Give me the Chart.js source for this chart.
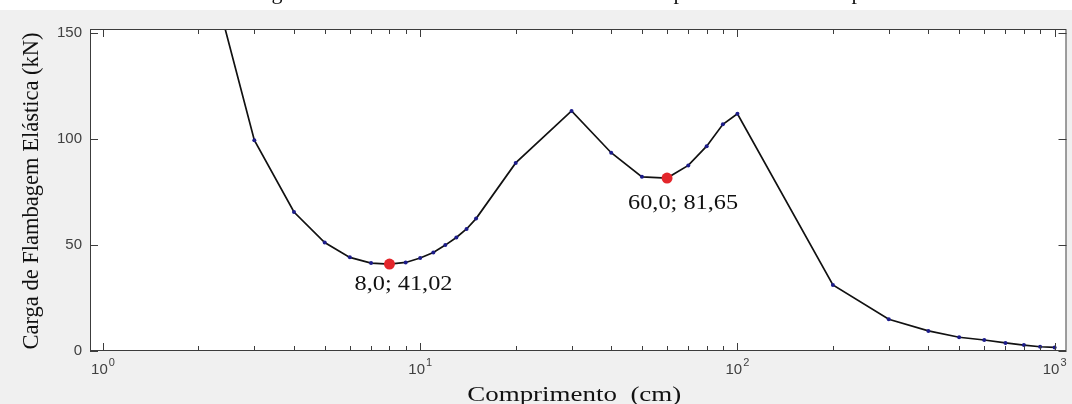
<!DOCTYPE html>
<html>
<head>
<meta charset="utf-8">
<script src="https://cdn.jsdelivr.net/npm/chart.js@4.4.1/dist/chart.umd.min.js"></script>
<style>
    html, body { margin: 0; padding: 0; background: #f0f0f0; }
    #wrap { width: 1072px; height: 404px; position: relative; }
</style>
</head>
<body>
<div id="wrap"><canvas id="chart"></canvas></div>
<script>
// --- DATA ---
const lengths = [2, 3, 4, 5, 6, 7, 8, 9, 10, 11, 12, 13, 14, 15, 20, 30, 40, 50, 60, 70, 80, 90, 100, 200, 300, 400, 500, 600, 700, 800, 900, 1000];
const loads = [200, 99.5, 65.6, 51.2, 44.2, 41.5, 41.02, 41.8, 43.9, 46.5, 50.0, 53.6, 57.6, 62.5, 88.8, 113.3, 93.6, 82.2, 81.65, 87.6, 96.7, 107, 112, 31.2, 15.0, 9.5, 6.5, 5.2, 3.8, 2.8, 2.0, 1.7];

const highlightX = [8, 60];
const highlightY = [41.02, 81.65];
const highlightLabels = ['8,0; 41,02', '60,0; 81,65'];

const xMajorTicks = [1, 10, 100, 1000];
const xMajorExp = ['0', '1', '2', '3'];
const yTickValues = [0, 50, 100, 150];

const xTitle = 'Comprimento  (cm)';
const yTitle = 'Carga de Flambagem Elástica (kN)';

// --- STYLE ---
const SERIF = "'Liberation Serif', 'Times New Roman', serif";
const SANS = "'Liberation Sans', Arial, sans-serif";
const AXIS_COLOR = '#3c3c3c';
// label offsets from the marked point (px): dx to text centre, dy to baseline, width
const labelBoxes = [
    { dx: 14, dy: 26, w: 98 },
    { dx: 16, dy: 31, w: 110 }
];

// draw text squeezed/stretched to a given width
function fitText(ctx, text, cx, y, w) {
    const m = ctx.measureText(text).width;
    ctx.save();
    ctx.translate(cx, y);
    ctx.scale(w / m, 1);
    ctx.textAlign = 'center';
    ctx.fillText(text, 0, 0);
    ctx.restore();
}

const framePlugin = {
    id: 'frame',
    beforeDraw(chart) {
        const { ctx, chartArea: a, width, height } = chart;
        ctx.save();
        ctx.fillStyle = '#ffffff';
        ctx.fillRect(0, 0, width, height);
        ctx.fillStyle = '#f0f0f0';
        ctx.fillRect(0, 10, width, height - 10);
        ctx.fillStyle = '#ffffff';
        ctx.fillRect(a.left, a.top, a.right - a.left, a.bottom - a.top);

        // descenders of the caption line cut off above the figure
        ctx.fillStyle = '#111';
        ctx.font = '22px ' + SERIF;
        ctx.textAlign = 'center';
        ctx.textBaseline = 'alphabetic';
        ctx.fillText('g', 277, -1);
        ctx.fillText('p', 679, -1);
        ctx.fillText('p', 857, -1);
        ctx.restore();
    },
    afterDraw(chart) {
        const { ctx, chartArea: a } = chart;
        const xs = chart.scales.x;
        const ys = chart.scales.y;
        ctx.save();

        // box
        ctx.strokeStyle = AXIS_COLOR;
        ctx.lineWidth = 1;
        ctx.strokeRect(a.left + 0.5, a.top + 0.5, a.right - a.left - 1, a.bottom - a.top - 1);

        // inside tick marks, bottom and top
        ctx.beginPath();
        xs.ticks.forEach(t => {
            const px = Math.round(xs.getPixelForValue(t.value)) + 0.5;
            if (px < a.left || px > a.right) return;
            const len = xMajorTicks.includes(t.value) ? 8 : 5;
            ctx.moveTo(px, a.bottom);
            ctx.lineTo(px, a.bottom - len);
            ctx.moveTo(px, a.top);
            ctx.lineTo(px, a.top + len);
        });
        ys.ticks.forEach(t => {
            const py = Math.round(ys.getPixelForValue(t.value)) + 0.5;
            ctx.moveTo(a.left, py);
            ctx.lineTo(a.left + 8, py);
            ctx.moveTo(a.right, py);
            ctx.lineTo(a.right - 8, py);
        });
        ctx.stroke();

        // x tick labels 10^n
        ctx.fillStyle = '#404040';
        ctx.textAlign = 'left';
        ctx.textBaseline = 'alphabetic';
        xMajorTicks.forEach((v, i) => {
            const px = xs.getPixelForValue(v);
            ctx.font = '15px ' + SANS;
            const wBase = ctx.measureText('10').width;
            ctx.font = '11px ' + SANS;
            const wExp = ctx.measureText(xMajorExp[i]).width;
            const x0 = px - (wBase + wExp + 1) / 2;
            ctx.font = '15px ' + SANS;
            ctx.fillText('10', x0, 374);
            ctx.font = '11px ' + SANS;
            ctx.fillText(xMajorExp[i], x0 + wBase + 1, 366);
        });

        // axis titles
        ctx.fillStyle = '#111';
        ctx.font = '22px ' + SERIF;
        ctx.textBaseline = 'alphabetic';
        fitText(ctx, xTitle, (a.left + a.right) / 2 - 4, 401, 214);
        ctx.save();
        ctx.translate(38, (a.top + a.bottom) / 2 + 1);
        ctx.rotate(-Math.PI / 2);
        ctx.font = '23px ' + SERIF;
        fitText(ctx, yTitle, 0, 0, 317);
        ctx.restore();

        // point labels
        ctx.font = '22px ' + SERIF;
        highlightX.forEach((x, i) => {
            const px = xs.getPixelForValue(x);
            const py = ys.getPixelForValue(highlightY[i]);
            const b = labelBoxes[i];
            fitText(ctx, highlightLabels[i], px + b.dx, py + b.dy, b.w);
        });

        ctx.restore();
    }
};

// --- CHART ---
document.addEventListener('DOMContentLoaded', () => {
    const ctx = document.getElementById('chart').getContext('2d');
    new Chart(ctx, {
        type: 'line',
        data: {
            datasets: [
                {
                    label: 'Mínimos',
                    data: highlightX.map((x, i) => ({ x: x, y: highlightY[i] })),
                    showLine: false,
                    pointRadius: 5.5,
                    pointBackgroundColor: '#e3262b',
                    pointBorderColor: '#e3262b',
                    pointBorderWidth: 0,
                    order: 0
                },
                {
                    label: 'Carga',
                    data: lengths.map((x, i) => ({ x: x, y: loads[i] })),
                    borderColor: '#111111',
                    borderWidth: 1.7,
                    tension: 0,
                    pointRadius: 2,
                    pointBackgroundColor: '#1c1c8a',
                    pointBorderColor: '#1c1c8a',
                    pointBorderWidth: 0,
                    order: 1
                }
            ]
        },
        options: {
            responsive: true,
            maintainAspectRatio: false,
            animation: false,
            layout: { padding: { top: 29, right: 3, left: 0, bottom: 0 } },
            plugins: {
                legend: { display: false },
                tooltip: { enabled: false }
            },
            scales: {
                x: {
                    type: 'logarithmic',
                    min: 0.91,
                    max: 1090,
                    grid: { display: false, drawTicks: false },
                    border: { display: false },
                    ticks: { display: false },
                    afterBuildTicks: s => {
                        const t = [];
                        xMajorTicks.forEach(d => {
                            for (let k = 1; k <= 9; k++) {
                                const v = d * k;
                                if (v <= 1000) t.push({ value: v });
                            }
                        });
                        s.ticks = t;
                    },
                    afterFit: s => { s.height = 53; }
                },
                y: {
                    min: 0,
                    max: 152,
                    grid: { display: false, drawTicks: false },
                    border: { display: false },
                    ticks: {
                        color: '#404040',
                        font: { family: SANS, size: 15 },
                        padding: 8
                    },
                    afterBuildTicks: s => { s.ticks = yTickValues.map(v => ({ value: v })); },
                    afterFit: s => { s.width = 90; }
                }
            }
        },
        plugins: [framePlugin]
    });
});
</script>
</body>
</html>
